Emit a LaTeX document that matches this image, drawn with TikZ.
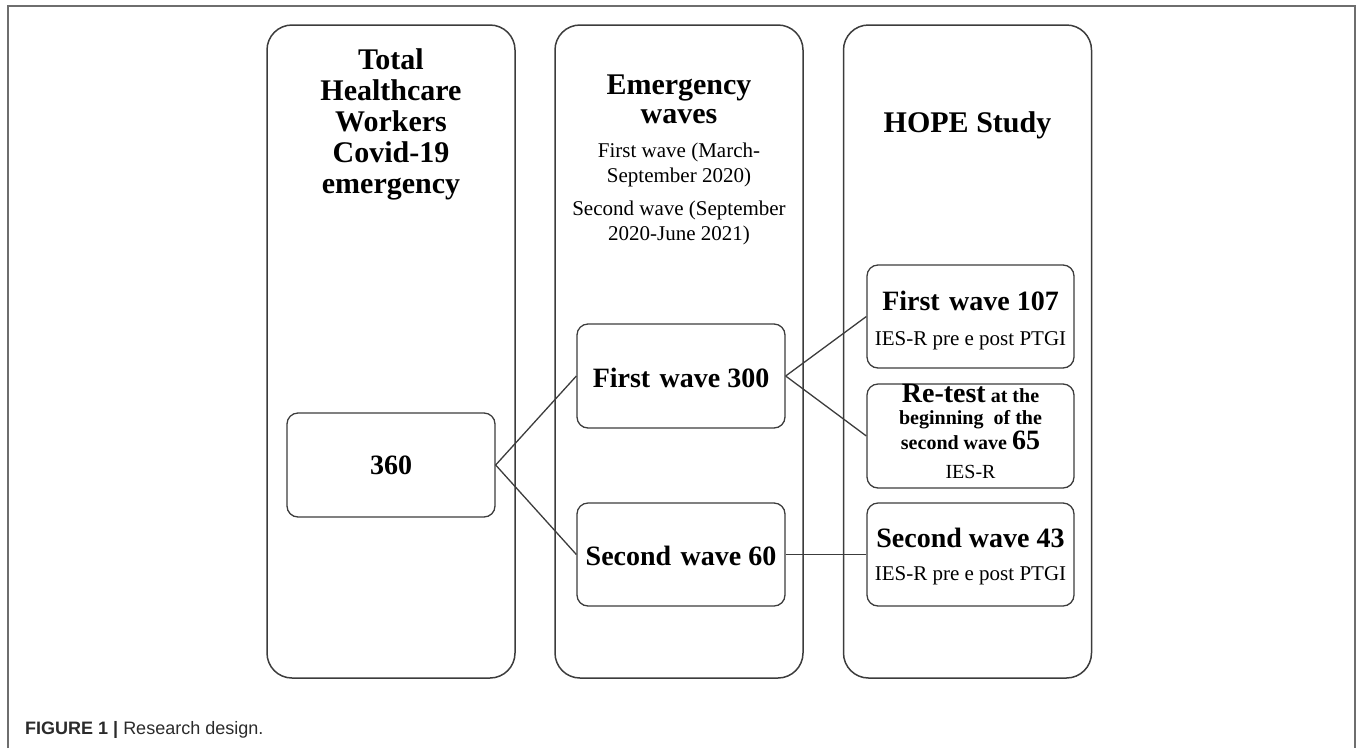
\documentclass[tikz,border=0pt]{standalone}
\usepackage{fontspec}
\setmainfont{Liberation Serif}
\newfontfamily\capfont{Liberation Sans}
\definecolor{linec}{HTML}{3C3C3C}
\definecolor{framec}{HTML}{6E6E6E}
\definecolor{capc}{HTML}{2B2B2B}
\tikzset{
  colbox/.style={draw=linec, line width=1.5pt, rounded corners=25pt, minimum width=248pt, minimum height=653pt, inner sep=0pt},
  smallbox/.style={draw=linec, line width=1.3pt, rounded corners=11pt, inner sep=0pt},
  link/.style={draw=linec, line width=1.3pt},
  hdtext/.style={font=\fontsize{30}{31}\selectfont\bfseries, align=center, inner sep=0pt},
  subtext/.style={font=\fontsize{21}{25}\selectfont, align=center, inner sep=0pt},
  bigtext/.style={font=\fontsize{28}{30}\selectfont\bfseries, inner sep=0pt},
  smalltext/.style={font=\fontsize{21}{24}\selectfont, inner sep=0pt},
  midbold/.style={font=\fontsize{20}{22}\selectfont\bfseries, inner sep=0pt}
}
\begin{document}
\begin{tikzpicture}[x=1pt,y=-1pt]
\useasboundingbox (0,0) rectangle (1357,748);
% outer frame (open at bottom)
\draw[framec, line width=2pt] (8,748) -- (8,6) -- (1355,6) -- (1355,748);

% columns
\node[colbox] (c1) at (391,351.5) {};
\node[colbox] (c2) at (679,351.5) {};
\node[colbox] (c3) at (967.5,351.5) {};

% column headers (base anchor = last line)
\node[hdtext, anchor=base] (h1) at (391,193) {Total\\Healthcare\\Workers\\Covid-19\\emergency};
\node[hdtext, anchor=base, font=\fontsize{30}{29}\selectfont\bfseries] (h2) at (679,123) {Emergency\\waves};
\node[subtext, anchor=base] (s1) at (679,182) {First wave (March-\\September 2020)};
\node[subtext, anchor=base] (s2) at (679,240) {Second wave (September\\2020-June 2021)};
\node[hdtext, anchor=base] (h3) at (967.5,132) {HOPE Study};

% boxes
\node[smallbox, minimum width=208pt, minimum height=104pt] (b360) at (391,465) {};
\node[bigtext] (t360) at (391,465) {360};

\node[smallbox, minimum width=208pt, minimum height=104pt] (fw300) at (681,376) {};
\node[bigtext] (tfw300) at (681,378) {First\,\,wave 300};

\node[smallbox, minimum width=208pt, minimum height=103pt] (sw60) at (681,554.5) {};
\node[bigtext] (tsw60) at (681,556) {Second\,\,wave 60};

\node[smallbox, minimum width=207pt, minimum height=103pt] (fw107) at (970.5,316.5) {};
\node[bigtext, anchor=base] (tfw107) at (970.5,310) {First\,\,wave 107};
\node[smalltext, anchor=base] (ifw107) at (970.5,345) {IES-R pre e post PTGI};

\node[smallbox, minimum width=207pt, minimum height=104pt] (rt) at (970.5,436) {};
\node[anchor=base, inner sep=0pt] (trt1) at (970.5,402) {{\fontsize{28}{30}\selectfont\bfseries Re-test}{\fontsize{20}{22}\selectfont\bfseries\ at the}};
\node[midbold, anchor=base] (trt2) at (970.5,424) {beginning\ \ of the};
\node[anchor=base, inner sep=0pt] (trt3) at (970.5,449) {{\fontsize{20}{22}\selectfont\bfseries second wave }{\fontsize{28}{30}\selectfont\bfseries 65}};
\node[smalltext, anchor=base, font=\fontsize{20}{22}\selectfont] (irt) at (970.5,478) {IES-R};

\node[smallbox, minimum width=207pt, minimum height=103pt] (sw43) at (970.5,554.5) {};
\node[bigtext, anchor=base] (tsw43) at (970.5,547) {Second wave 43};
\node[smalltext, anchor=base] (isw43) at (970.5,580) {IES-R pre e post PTGI};

% connectors
\draw[link] (b360.east) -- (fw300.west);
\draw[link] (b360.east) -- (sw60.west);
\draw[link] (fw300.east) -- (fw107.west);
\draw[link] (fw300.east) -- (rt.west);
\draw[link] (sw60.east) -- (sw43.west);

% caption
\node[anchor=base west, inner sep=0pt, text=capc, font=\capfont\fontsize{18}{20}\selectfont] (cap) at (25,734) {\textbf{FIGURE 1} \textbf{|} Research design.};
\end{tikzpicture}
\end{document}
